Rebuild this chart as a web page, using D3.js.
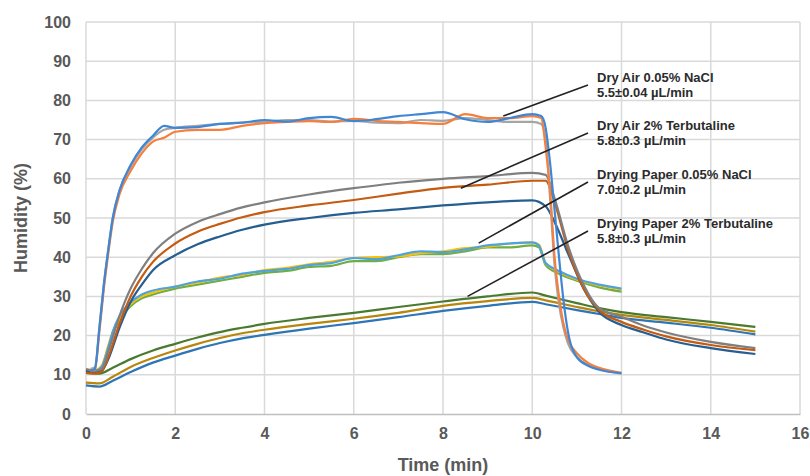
<!DOCTYPE html>
<html>
<head>
<meta charset="utf-8">
<script src="https://cdn.jsdelivr.net/npm/d3@7"></script>
<style>
  body { margin: 0; background: #fff; }
  svg { display: block; }
</style>
</head>
<body>
<div id="chart"></div>
<script>
// ---- data ----
const xTicks = [0, 2, 4, 6, 8, 10, 12, 14, 16];
const yTicks = [0, 10, 20, 30, 40, 50, 60, 70, 80, 90, 100];

// Dry Air 0.05% NaCl
const tA = [0.1, 0.2, 0.3, 0.4, 0.5, 0.6, 0.75, 1, 1.25, 1.5, 1.75, 2, 2.5, 3, 3.5, 4, 4.5, 5, 5.5, 6, 6.5, 7, 7.5, 8, 8.5, 9, 9.5, 10, 10.2, 10.3, 10.4, 10.5, 10.6, 10.7, 10.8, 11, 11.25, 11.5, 12];
const airNaclBlue = [11, 11.5, 22, 33, 42, 50, 57, 63.5, 68, 71, 73.5, 73, 73.2, 74, 74.3, 75, 74.6, 75.5, 75.8, 74.7, 75.2, 76, 76.5, 77, 75.2, 74.5, 75.5, 76.5, 76, 73, 64, 52, 40, 29, 21, 14.5, 12.3, 11.3, 10.4];
const airNaclOrange = [11, 11.3, 21, 32, 41, 49, 56, 62, 66.5, 69.5, 70.5, 72, 72.5, 72.5, 73.5, 74.2, 74.5, 74.7, 74.5, 75.3, 74.8, 74.5, 74.2, 74, 76.5, 75.5, 75.5, 76, 75.5, 68, 57, 40, 30, 23, 19, 15.5, 13, 11.8, 10.5];
const airNaclGray = [11.5, 12, 22, 33, 42, 50, 57, 63, 67.5, 70.5, 72.5, 73, 73.5, 74, 74.4, 74.5, 75, 75, 74.6, 74.8, 74.3, 74.2, 75, 74.8, 75.5, 75, 74.5, 74.5, 74, 70, 55, 38, 28, 22, 18, 14.5, 12.5, 11.5, 10.3];

// Dry Air 2% Terbutaline
const tB = [0, 0.2, 0.35, 0.5, 0.75, 1, 1.25, 1.5, 2, 2.5, 3, 3.5, 4, 5, 6, 7, 8, 9, 10, 10.3, 10.5, 10.8, 11.15, 11.5, 12, 12.5, 13, 14, 15];
const airTerbGray = [11.5, 11, 11.5, 16, 25, 32, 37, 41, 46, 49, 51, 52.7, 54, 56, 57.6, 59, 60, 60.7, 61.5, 61, 55, 43, 33, 27, 24.8, 22.5, 20.8, 18.4, 16.8];
const airTerbOrange = [10.5, 10.3, 10.8, 14.5, 23, 30, 35, 38.8, 43.5, 46.5, 48.5, 50.2, 51.5, 53.2, 54.6, 56.2, 57.7, 58.5, 59.5, 59.5, 54, 42, 32, 26.5, 23.5, 21.5, 19.8, 17.6, 16.3];
const airTerbBlue = [11, 10.5, 11, 14, 22, 28.6, 33, 36.7, 40.5, 43.3, 45.3, 47, 48.3, 50, 51.3, 52.2, 53.2, 54, 54.5, 53, 49, 41, 32, 26, 22.7, 20.8, 19, 16.8, 15.3];

// Drying Paper 0.05% NaCl
const tC = [0, 0.2, 0.35, 0.5, 0.6, 0.75, 1, 1.25, 1.5, 2, 2.5, 3, 3.5, 4, 4.5, 5, 5.5, 6, 6.5, 7, 7.5, 8, 8.5, 9, 9.5, 10, 10.15, 10.3, 10.6, 11, 11.5, 12];
const paperNaclBlue = [11, 11, 12, 17, 21, 25, 28.5, 30.5, 31.5, 32.5, 33.8, 34.5, 35.8, 36.5, 37, 38, 38.5, 39.8, 39.5, 40.5, 41.5, 41.3, 42, 43, 43.5, 43.8, 43, 38.5, 36.5, 34.5, 33, 32];
const paperNaclYellow = [11.3, 11.2, 12.3, 17.5, 21, 24, 28, 30, 31, 32.5, 33.5, 34.8, 35.5, 36.7, 37.3, 38.2, 38.8, 39.8, 40, 40.2, 41, 41.5, 42.3, 42.7, 43.5, 43.7, 43.2, 38.5, 36.3, 34.3, 32.8, 31.8];
const paperNaclGreen = [10.8, 10.8, 12, 17, 20.5, 24, 27.5, 29.5, 30.5, 32, 33, 34, 35, 36, 36.5, 37.5, 37.8, 39, 39, 40, 40.8, 40.8, 41.5, 42.5, 42.5, 43, 42.5, 38, 35.8, 34, 32.3, 31.2];

// Drying Paper 2% Terbutaline
const tD = [0, 0.3, 0.6, 1, 1.5, 2, 2.5, 3, 3.5, 4, 5, 6, 7, 8, 9, 10, 10.3, 11, 11.5, 12, 13, 14, 15];
const paperTerbGreen = [10.5, 10.3, 11.8, 14, 16.2, 17.9, 19.5, 20.9, 22, 23, 24.5, 25.8, 27.3, 28.7, 30, 31, 30.2, 28.3, 27, 26, 24.7, 23.5, 22.2];
const paperTerbGold = [8, 7.8, 9.5, 12, 14.3, 16.2, 17.9, 19.4, 20.6, 21.5, 23, 24.3, 25.8, 27.6, 28.8, 29.6, 29, 27.3, 26.2, 25.3, 24, 22.7, 21];
const paperTerbBlue = [7.3, 7, 8.5, 10.7, 13.1, 14.9, 16.6, 18.1, 19.3, 20.2, 21.8, 23.2, 24.7, 26.3, 27.6, 28.6, 28, 26.5, 25.5, 24.5, 23.3, 22, 20.3];

const series = [
    { t: tD, v: paperTerbBlue, color: '#2e75b6' },
    { t: tD, v: paperTerbGold, color: '#b8860b' },
    { t: tD, v: paperTerbGreen, color: '#4a7a30' },
    { t: tC, v: paperNaclGreen, color: '#70ad47' },
    { t: tC, v: paperNaclYellow, color: '#ffc000' },
    { t: tC, v: paperNaclBlue, color: '#4da3e0' },
    { t: tB, v: airTerbBlue, color: '#255e91' },
    { t: tB, v: airTerbOrange, color: '#c55a11' },
    { t: tB, v: airTerbGray, color: '#7f7f7f' },
    { t: tA, v: airNaclGray, color: '#a5a5a5' },
    { t: tA, v: airNaclOrange, color: '#f5803e' },
    { t: tA, v: airNaclBlue, color: '#3f87d4' }
];

// leader labels: text lines and the point on the curve they point to
const labelLines = [
    ['Dry Air 0.05% NaCl', '5.5\u00b10.04 \u00b5L/min'],
    ['Dry Air 2% Terbutaline', '5.8\u00b10.3 \u00b5L/min'],
    ['Drying Paper 0.05% NaCl', '7.0\u00b10.2 \u00b5L/min'],
    ['Drying Paper 2% Terbutaline', '5.8\u00b10.3 \u00b5L/min']
];
const labelTargetT = [9.35, 8.4, 8.8, 8.55];
const labelTargetV = [76, 57.6, 43.6, 30];

// ---- drawing ----
const width = 810, height = 476;
const margin = { left: 86, right: 10, top: 22, bottom: 62 };

const svg = d3.select('#chart').append('svg')
    .attr('width', width)
    .attr('height', height);

const x = d3.scaleLinear().domain([0, 16]).range([margin.left, 800]);
const y = d3.scaleLinear().domain([0, 100]).range([414, margin.top]);

const tickFont = 'Liberation Sans, Arial, sans-serif';
const axisGray = '#595959';

// gridlines
svg.append('g')
    .selectAll('line.v')
    .data(xTicks)
    .join('line')
    .attr('x1', d => x(d)).attr('x2', d => x(d))
    .attr('y1', y(0)).attr('y2', y(100))
    .attr('stroke', '#d9d9d9')
    .attr('stroke-width', 1.5);

svg.append('g')
    .selectAll('line.h')
    .data(yTicks.filter(d => d > 0))
    .join('line')
    .attr('x1', x(0)).attr('x2', x(16))
    .attr('y1', d => y(d)).attr('y2', d => y(d))
    .attr('stroke', '#d9d9d9')
    .attr('stroke-width', 1.5);

// x axis
const xAxis = svg.append('g')
    .attr('transform', `translate(0,${y(0)})`)
    .call(d3.axisBottom(x).tickValues(xTicks).tickSize(0).tickPadding(14).tickFormat(d3.format('d')));
xAxis.select('.domain').attr('stroke', '#bfbfbf').attr('stroke-width', 1.5);
xAxis.selectAll('text')
    .attr('fill', axisGray)
    .attr('font-family', tickFont)
    .attr('font-weight', 'bold')
    .attr('font-size', '16px');

// y axis
const yAxis = svg.append('g')
    .attr('transform', `translate(${x(0)},0)`)
    .call(d3.axisLeft(y).tickValues(yTicks).tickSize(0).tickPadding(15).tickFormat(d3.format('d')));
yAxis.select('.domain').remove();
yAxis.selectAll('text')
    .attr('fill', axisGray)
    .attr('font-family', tickFont)
    .attr('font-weight', 'bold')
    .attr('font-size', '16px');

// axis titles
svg.append('text')
    .attr('x', x(8))
    .attr('y', 471)
    .attr('text-anchor', 'middle')
    .attr('fill', axisGray)
    .attr('font-family', tickFont)
    .attr('font-weight', 'bold')
    .attr('font-size', '18px')
    .text('Time (min)');

svg.append('text')
    .attr('transform', `translate(27,${y(50)}) rotate(-90)`)
    .attr('text-anchor', 'middle')
    .attr('fill', axisGray)
    .attr('font-family', tickFont)
    .attr('font-weight', 'bold')
    .attr('font-size', '18px')
    .text('Humidity (%)');

// curves
const line = d3.line()
    .x(d => x(d[0]))
    .y(d => y(d[1]))
    .curve(d3.curveMonotoneX);

svg.append('g')
    .selectAll('path')
    .data(series)
    .join('path')
    .attr('d', s => line(d3.zip(s.t, s.v)))
    .attr('fill', 'none')
    .attr('stroke', s => s.color)
    .attr('stroke-width', 2.2)
    .attr('stroke-linejoin', 'round');

// annotations
const labelX = 597, lineStartX = 588;
const labelTop = [82, 130, 179, 228];

const ann = svg.append('g');
labelLines.forEach((lines, i) => {
    ann.append('line')
        .attr('x1', lineStartX)
        .attr('y1', labelTop[i] + 3)
        .attr('x2', x(labelTargetT[i]))
        .attr('y2', y(labelTargetV[i]))
        .attr('stroke', '#222')
        .attr('stroke-width', 1.6);
    lines.forEach((txt, j) => {
        ann.append('text')
            .attr('x', labelX)
            .attr('y', labelTop[i] + j * 15)
            .attr('fill', '#2b2b2b')
            .attr('font-family', tickFont)
            .attr('font-weight', 'bold')
            .attr('font-size', '13px')
            .text(txt);
    });
});
</script>
</body>
</html>
